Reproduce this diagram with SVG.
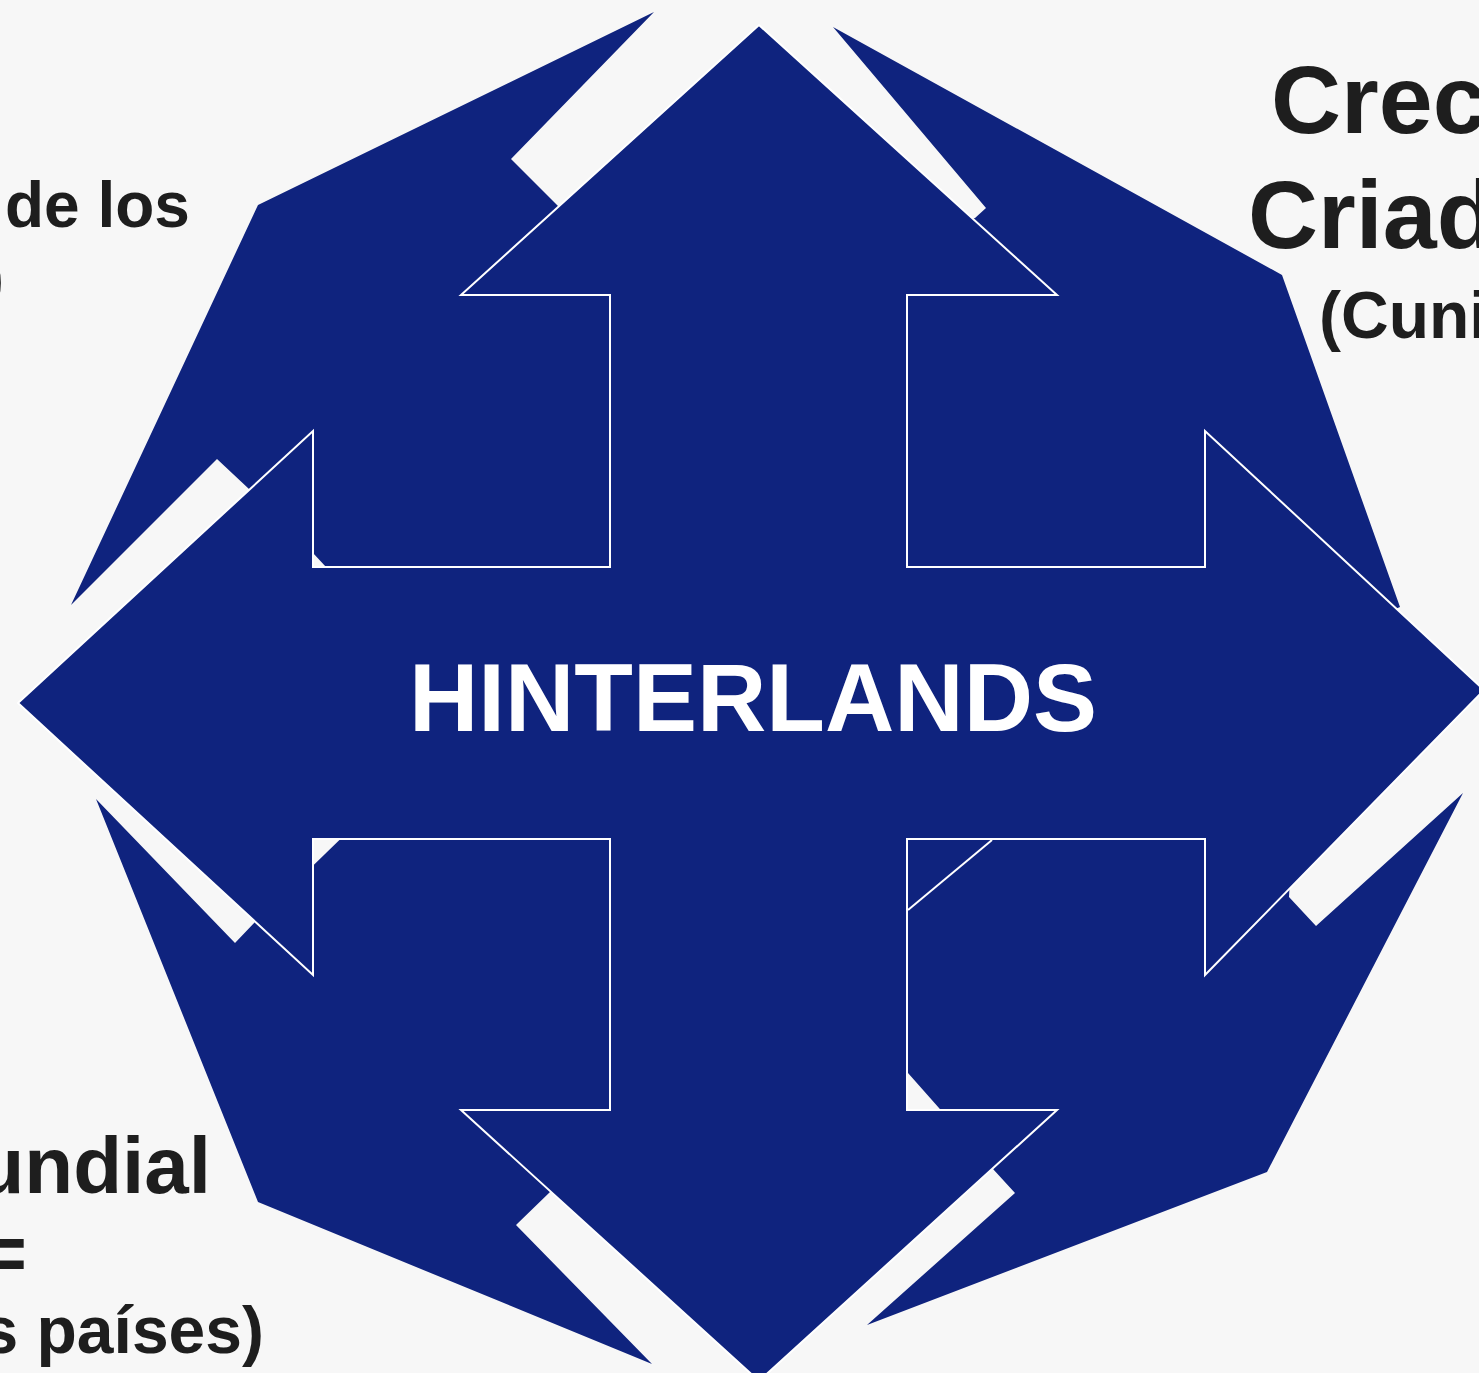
<svg xmlns="http://www.w3.org/2000/svg" width="1479" height="1373" viewBox="0 0 1479 1373">
<style>
.piece{fill:#0f237e;stroke:none}
.arrow{fill:#0f237e;stroke:#ffffff;stroke-width:2;stroke-linejoin:miter}
.lbl{font-family:"Liberation Sans",Arial,sans-serif;font-weight:bold;fill:#1e1e1e}
.center{font-family:"Liberation Sans",Arial,sans-serif;font-weight:bold;fill:#ffffff}
</style>
<rect x="0" y="0" width="1479" height="1373" fill="#f7f7f7"/>
<g id="pieces">
<polygon id="piece-tl" class="piece" points="654,12 258,205 71,605 217,459 249,489 313,553 326,567 700,600 700,200 558,206 511,159"/>
<polygon id="piece-tr" class="piece" points="833,27 1282,275 1400,607 1300,650 850,650 850,250 975,218 986,208"/>
<polygon id="piece-bl" class="piece" points="96,799 258,1202 652,1364 516,1225 550,1192 700,1200 700,800 360,820 255,922 235,943"/>
<polygon id="piece-br" class="piece" points="1463,793 1267,1172 867,1325 1015,1193 993,1169 908,1073 880,1041 800,1000 800,700 1300,700 1289,897 1316,926"/>
</g>
<g id="hinterlands">
<polygon class="arrow" points="759,25 1057,295 907,295 907,567 1205,567 1205,431 1484,690 1205,975 1205,839 907,839 907,1110 1057,1110 759,1381 461,1110 610,1110 610,839 313,839 313,975 18,703 313,431 313,567 610,567 610,295 461,295"/>
<line x1="908" y1="910" x2="992" y2="840" stroke="#ffffff" stroke-width="2"/>
<text class="center" x="753" y="731" font-size="96" text-anchor="middle">HINTERLANDS</text>
</g>
<g id="label-tl">
<text class="lbl" x="5" y="227" font-size="64">de los</text>
<text class="lbl" x="4" y="300" font-size="64" text-anchor="end">)</text>
</g>
<g id="label-tr">
<text class="lbl" x="1271" y="133" font-size="97">Crec</text>
<text class="lbl" x="1248" y="248" font-size="97">Criad</text>
<text class="lbl" x="1319" y="338" font-size="66">(Cuni</text>
</g>
<g id="label-bl">
<text class="lbl" x="211" y="1193" font-size="80" text-anchor="end">undial</text>
<text class="lbl" x="27" y="1280" font-size="80" text-anchor="end">=</text>
<text class="lbl" x="264" y="1353" font-size="66" text-anchor="end">s países)</text>
</g>
<g id="connectors"></g>
</svg>
